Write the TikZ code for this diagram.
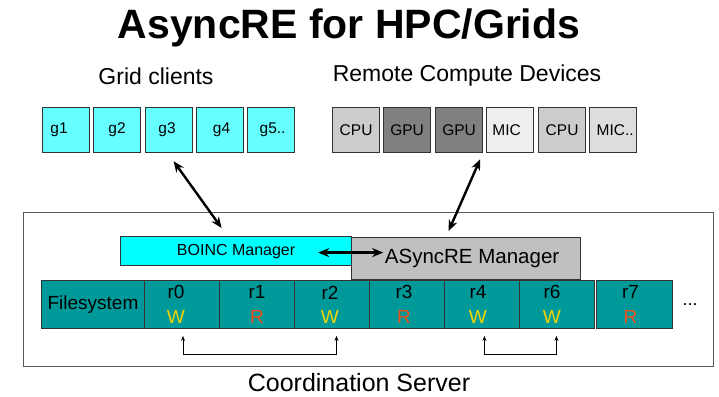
\documentclass[tikz,border=0pt]{standalone}
\usepackage{fontspec}
\setmainfont{Liberation Sans}
\usetikzlibrary{arrows.meta,calc}

\definecolor{gridcyan}{HTML}{66FFFF}
\definecolor{boinccyan}{HTML}{00FFFF}
\definecolor{fsteal}{HTML}{009999}
\definecolor{cpugray}{HTML}{CCCCCC}
\definecolor{gpugray}{HTML}{808080}
\definecolor{micgray}{HTML}{EEEEEE}
\definecolor{mic2gray}{HTML}{DDDDDD}
\definecolor{mgrgray}{HTML}{C0C0C0}
\definecolor{wyellow}{HTML}{F2D500}
\definecolor{rorange}{HTML}{F0501E}
\definecolor{edgegray}{HTML}{333333}

\tikzset{
  devbox/.style={draw=edgegray, line width=1.2pt, rectangle, inner sep=0pt,
    minimum width=47pt, minimum height=45pt, anchor=north west,
    font=\fontsize{15.5}{18}\selectfont},
  gbox/.style={devbox, fill=gridcyan},
  cellbox/.style={draw=black!80, line width=0.9pt, fill=fsteal, rectangle,
    inner sep=0pt, minimum height=48pt, anchor=north west},
  celltxt/.style={font=\fontsize{19}{21}\selectfont},
  bigarrow/.style={line width=2.4pt, {Stealth[length=11pt,width=9pt]}-{Stealth[length=11pt,width=9pt]}},
  smallarrow/.style={line width=0.8pt, -{Stealth[length=5pt,width=4pt]}},
}

\begin{document}
\begin{tikzpicture}[x=1pt,y=-1pt]
\useasboundingbox (0,0) rectangle (719,396);

% title and group captions
\node[font=\fontsize{41}{46}\selectfont\bfseries] (title) at (349,28) {AsyncRE for HPC/Grids};
\node[font=\fontsize{23}{26}\selectfont] (gridlbl) at (156,76) {Grid clients};
\node[font=\fontsize{23}{26}\selectfont] (remlbl) at (467,76) {Remote Compute Devices};

% coordination server frame
\draw[draw=black!65, line width=0.9pt] (23,212) rectangle (713,366);
\node[font=\fontsize{25}{28}\selectfont] (server) at (359,383) {Coordination Server};

% grid clients
\node[gbox] (g1) at (42,107) {\hspace*{-14pt}g1};
\node[gbox] (g2) at (93,107) {g2};
\node[gbox] (g3) at (145,107) {\hspace*{-4pt}g3};
\node[gbox] (g4) at (196,107) {\hspace*{3pt}g4};
\node[gbox] (g5) at (247,107) {\hspace*{3pt}g5..};

% remote compute devices
\node[devbox, fill=cpugray] (d1) at (332,107) {CPU};
\node[devbox, fill=gpugray] (d2) at (383,107) {GPU};
\node[devbox, fill=gpugray] (d3) at (435,107) {GPU};
\node[devbox, fill=micgray] (d4) at (486,107) {\hspace*{-7pt}MIC};
\node[devbox, fill=cpugray] (d5) at (538,107) {CPU};
\node[devbox, fill=mic2gray] (d6) at (589,107) {\hspace*{4pt}MIC..};

% managers
\node[draw=edgegray, line width=1.2pt, fill=mgrgray, rectangle, inner sep=0pt,
  minimum width=229pt, minimum height=42pt, anchor=north west,
  font=\fontsize{20.5}{23}\selectfont] (async) at (351,237) {\hspace*{12pt}\raisebox{-3pt}{ASyncRE Manager}};
\node[draw=edgegray, line width=1.2pt, fill=boinccyan, rectangle, inner sep=0pt,
  minimum width=231pt, minimum height=29pt, anchor=north west,
  font=\fontsize{16}{18}\selectfont] (boinc) at (120,236) {BOINC Manager};

% filesystem row
\node[cellbox, minimum width=103pt, font=\fontsize{19}{21}\selectfont] (fs) at (41,280) {Filesystem};
\node[cellbox, minimum width=75pt] (c0) at (144,280) {};
\node[cellbox, minimum width=75pt] (c1) at (219,280) {};
\node[cellbox, minimum width=75pt] (c2) at (294,280) {};
\node[cellbox, minimum width=75pt] (c3) at (369,280) {};
\node[cellbox, minimum width=75pt] (c4) at (444,280) {};
\node[cellbox, minimum width=75pt] (c6) at (519,280) {};
\node[cellbox, minimum width=76pt] (c7) at (596,280) {};
\node[font=\fontsize{18}{20}\selectfont] (dots) at (690,305) {...};

\foreach \c/\r/\m/\col/\dx in {c0/r0/W/wyellow/-6, c1/r1/R/rorange/0, c2/r2/W/wyellow/-2,
  c3/r3/R/rorange/-3, c4/r4/W/wyellow/-4, c6/r6/W/wyellow/-5, c7/r7/R/rorange/-4}{
  \node[celltxt] (\c name) at ([shift={(\dx,-12)}]\c.center) {\r};
  \node[celltxt, text=\col] (\c mark) at ([shift={(\dx,13)}]\c.center) {\m};
}

% links between clients, devices and managers
\draw[bigarrow] ([shift={(4.5,8)}]g3.south) -- ([shift={(-14.5,-8)}]boinc.north);
\draw[bigarrow] ([shift={(-3,6)}]d3.south east) -- ([shift={(-17.5,-6)}]async.north);
\draw[bigarrow] ([shift={(-34,1.5)}]boinc.east) -- ([shift={(31,1.5)}]boinc.east);

% replica exchange brackets
\coordinate (b0) at ([shift={(1,7)}]c0.south);
\coordinate (b2) at ([shift={(4.5,7)}]c2.south);
\coordinate (b4) at ([shift={(2.5,7)}]c4.south);
\coordinate (b6) at ([shift={(-0.5,7)}]c6.south);
\draw[smallarrow] ([shift={(0,18)}]b0) -- (b0);
\draw[smallarrow] ([shift={(0,18)}]b0) -- ([shift={(0,18)}]b2) -- (b2);
\draw[smallarrow] ([shift={(0,18)}]b4) -- (b4);
\draw[smallarrow] ([shift={(0,18)}]b4) -- ([shift={(0,18)}]b6) -- (b6);
\end{tikzpicture}
\end{document}
